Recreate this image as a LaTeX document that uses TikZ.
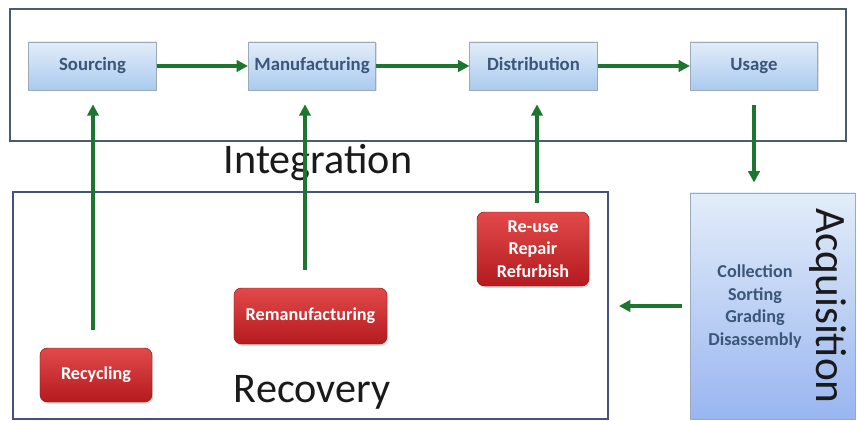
\documentclass[tikz,border=0pt]{standalone}
\usepackage{fontspec}
\setmainfont{Carlito}
\usetikzlibrary{shadows,arrows.meta}

\definecolor{flowgreen}{HTML}{1E7530}
\definecolor{framegray}{HTML}{4C5C6C}
\definecolor{stagetext}{HTML}{3A5678}
\definecolor{stagetop}{HTML}{E3EDF9}
\definecolor{stagebot}{HTML}{AACAEF}
\definecolor{stageline}{HTML}{9AAABC}
\definecolor{redtop}{HTML}{E24A4A}
\definecolor{redbot}{HTML}{B41A1E}
\definecolor{labeltext}{HTML}{1A1A1A}

\tikzset{
  stagebox/.style={draw=stageline, line width=0.6pt, top color=stagetop, bottom color=stagebot,
    minimum width=3.82cm, minimum height=1.44cm, inner sep=0pt,
    text height=11pt, text depth=3.5pt,
    font=\fontsize{16}{19}\selectfont\bfseries, text=stagetext,
    drop shadow={shadow xshift=0.8pt, shadow yshift=-1.2pt, opacity=0.25}},
  recbox/.style={rounded corners=0.22cm, draw=redbot!80!black, line width=0.4pt,
    top color=redtop, bottom color=redbot, inner sep=0pt,
    font=\fontsize{15.5}{19}\selectfont\bfseries, text=white, align=center,
    drop shadow={shadow xshift=1pt, shadow yshift=-1.5pt, opacity=0.3}},
  framebox/.style={draw=framegray, line width=2.2pt, inner sep=0pt},
  biglabel/.style={font=\fontsize{36}{42}\selectfont, text=labeltext, inner sep=0pt},
  flow/.style={draw=flowgreen, line width=2.6pt,
    -{Triangle[length=0.34cm,width=0.34cm]}}
}

\begin{document}
\begin{tikzpicture}[x=0.03cm,y=-0.03cm]
\useasboundingbox (0,0) rectangle (857,421);
\fill[white] (0,0) rectangle (857,421);

% outer frames
\node[framebox, minimum width=25.08cm, minimum height=3.96cm] (intframe) at (428,75) {};
\node[framebox, line width=1.6pt, draw=framegray!90!blue, minimum width=17.85cm, minimum height=6.81cm] (recframe) at (310.5,305.5) {};

% acquisition block
\node[draw=stageline, line width=0.8pt, top color=stagetop, bottom color=stagebot!90!blue,
      minimum width=4.95cm, minimum height=6.78cm, inner sep=0pt] (acq) at (772.5,306) {};
\node[font=\fontsize{15.5}{19.5}\selectfont\bfseries, text=stagetext, align=center, inner sep=0pt]
      (acqitems) at (755,306.5) {Collection\\Sorting\\Grading\\Disassembly};
\node[biglabel, rotate=-90, font=\fontsize{37}{42}\selectfont] (acqlabel) at (828,306) {Acquisition};

% forward chain
\node[stagebox] (src) at (92.5,66) {Sourcing};
\node[stagebox] (man) at (312,66) {Manufacturing};
\node[stagebox] (dis) at (533.5,66) {Distribution};
\node[stagebox] (use) at (754,66) {Usage};

% recovery options
\node[recbox, minimum width=3.36cm, minimum height=1.62cm] (recyc) at (96,375) {Recycling};
\node[recbox, minimum width=4.59cm, minimum height=1.68cm] (reman) at (310.5,316) {Remanufacturing};
\node[recbox, minimum width=3.36cm, minimum height=2.22cm] (reuse) at (533,249) {Re-use\\Repair\\Refurbish};

% section labels
\node[biglabel] (intlabel) at (318,163) {Integration};
\node[biglabel] (reclabel) at (312,392) {Recovery};

% connectors
\draw[flow] (src) -- (man);
\draw[flow] (man) -- (dis);
\draw[flow] (dis) -- (use);
\draw[flow, shorten <=0.45cm, shorten >=0.3cm] (use.south) -- (use.south |- acq.north);
\draw[flow, shorten <=0.24cm, shorten >=0.3cm] (acq.west |- 0,306) -- (recframe.east |- 0,306);
\draw[flow, shorten <=0.54cm, shorten >=0.42cm] (recyc.north -| 93,0) -- (src.south -| 93,0);
\draw[flow, shorten <=0.54cm, shorten >=0.42cm] (reman.north -| 305,0) -- (man.south -| 305,0);
\draw[flow, shorten <=0.27cm, shorten >=0.42cm] (reuse.north -| 537,0) -- (dis.south -| 537,0);
\end{tikzpicture}
\end{document}
